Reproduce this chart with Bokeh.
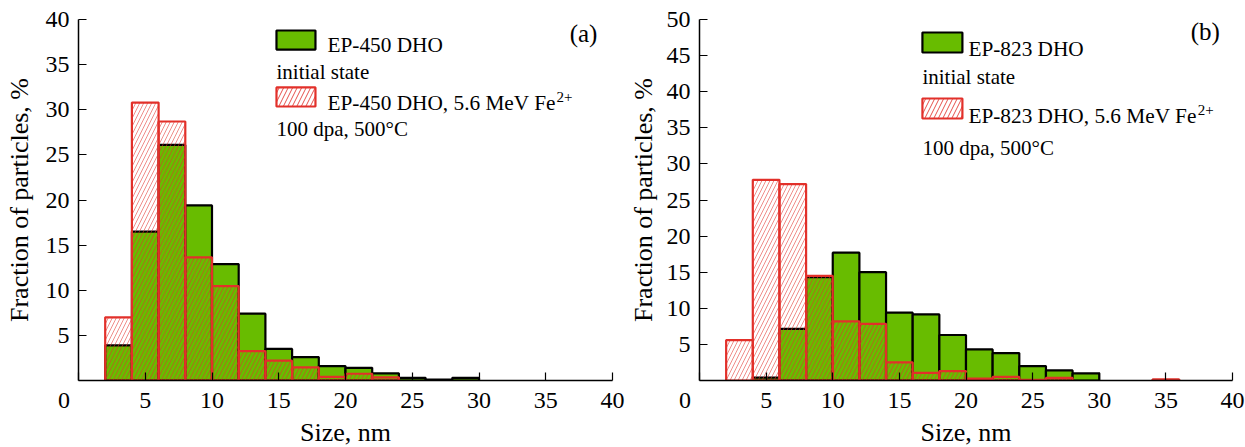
import numpy as np
from bokeh.plotting import figure
from bokeh.models import ColumnDataSource, Range1d, FixedTicker, Label
from bokeh.layouts import row
from bokeh.embed import file_html
from bokeh.resources import INLINE

# ---- data ----
bin_width = 2
a_left = [2, 4, 6, 8, 10, 12, 14, 16, 18, 20, 22, 24, 26, 28]
a_initial = [3.9, 16.5, 26.1, 19.4, 12.9, 7.4, 3.5, 2.6, 1.6, 1.4, 0.8, 0.3, 0.1, 0.3]
a_irradiated = [7.0, 30.8, 28.7, 13.65, 10.45, 3.25, 2.2, 1.45, 0.4, 0.75, 0.35, 0, 0, 0]

b_left = [2, 4, 6, 8, 10, 12, 14, 16, 18, 20, 22, 24, 26, 28, 30, 32, 34]
b_initial = [0, 0.4, 7.15, 14.3, 17.7, 15.0, 9.4, 9.15, 6.3, 4.3, 3.8, 2.0, 1.4, 1.0, 0, 0, 0]
b_irradiated = [5.6, 27.8, 27.2, 14.5, 8.2, 7.85, 2.5, 1.05, 1.3, 0.25, 0.5, 0.1, 0.35, 0, 0, 0, 0.15]

x_ticks = [0, 5, 10, 15, 20, 25, 30, 35, 40]
a_y_ticks = [5, 10, 15, 20, 25, 30, 35, 40]
b_y_ticks = [5, 10, 15, 20, 25, 30, 35, 40, 45, 50]

a_names = ["EP-450 DHO", "EP-450 DHO, 5.6 MeV Fe"]
b_names = ["EP-823 DHO", "EP-823 DHO, 5.6 MeV Fe"]
sub_initial = "initial state"
sub_irr = "100 dpa, 500°C"

GREEN = "#68bc00"
RED = "#e2302a"
FONT = "Liberation Serif"


def src(left, vals):
    left = np.array(left, dtype=float)
    vals = np.array(vals, dtype=float)
    m = vals > 0
    return ColumnDataSource(dict(left=left[m], right=left[m] + bin_width, top=vals[m],
                                 bottom=np.zeros(m.sum())))


def make_panel(left, init, irr, ymax, yticks, names, tag, border_left, frame_w, border_right,
               leg, ylab_standoff):
    p = figure(output_backend="svg", toolbar_location=None,
               x_range=Range1d(0, 40), y_range=Range1d(0, ymax),
               frame_width=frame_w, frame_height=361,
               min_border_left=border_left, min_border_right=border_right,
               min_border_top=19, min_border_bottom=67)
    p.outline_line_color = None
    p.grid.visible = False
    p.background_fill_color = "white"
    p.border_fill_color = "white"

    p.quad(left="left", right="right", top="top", bottom="bottom", source=src(left, init),
           fill_color=GREEN, line_color="black", line_width=2.2)
    p.quad(left="left", right="right", top="top", bottom="bottom", source=src(left, irr),
           fill_color=None, line_color=RED, line_width=2.2,
           hatch_pattern="/", hatch_color=RED, hatch_alpha=0.55, hatch_scale=8, hatch_weight=1)

    for ax in (p.xaxis[0], p.yaxis[0]):
        ax.axis_line_width = 1.5
        ax.axis_line_color = "black"
        ax.major_tick_in = 8
        ax.major_tick_out = 0
        ax.major_tick_line_width = 1.2
        ax.minor_tick_line_color = None
        ax.major_label_text_font = FONT
        ax.major_label_text_font_size = "24px"
        ax.major_label_text_color = "black"
        ax.axis_label_text_font = FONT
        ax.axis_label_text_font_size = "26px"
        ax.axis_label_text_font_style = "normal"
        ax.axis_label_text_color = "black"
    p.xaxis[0].ticker = FixedTicker(ticks=x_ticks)
    # the shared origin "0" sits left of the x-axis origin
    p.xaxis[0].major_label_overrides = {0: "0\u2003\u2009"}
    p.yaxis[0].ticker = FixedTicker(ticks=yticks)
    p.xaxis[0].axis_label = "Size, nm"
    p.yaxis[0].axis_label = "Fraction of particles, %"
    p.xaxis[0].major_label_standoff = 6
    p.xaxis[0].axis_label_standoff = 2
    p.yaxis[0].major_label_standoff = 9
    p.yaxis[0].axis_label_standoff = ylab_standoff

    sx0, sx1, gy0, gy1, ry0, ry1, tx, t1, t2, t3, t4, supx, supy, tagx, tagy = leg
    # legend swatches
    p.quad(left=[sx0], right=[sx1], top=[gy0], bottom=[gy1], fill_color=GREEN,
           line_color="black", line_width=2.2)
    p.quad(left=[sx0], right=[sx1], top=[ry0], bottom=[ry1], fill_color=None,
           line_color=RED, line_width=2.2, hatch_pattern="/", hatch_color=RED,
           hatch_alpha=0.85, hatch_scale=9, hatch_weight=1)

    def lab(x, y, t, size="21.3px", align="left"):
        p.add_layout(Label(x=x, y=y, text=t, text_font=FONT, text_font_size=size,
                           text_align=align, text_baseline="alphabetic", text_color="black"))

    lab(tx, t1, names[0])
    lab(sx0, t2, sub_initial, size="21px")
    lab(tx, t3, names[1])
    lab(supx, supy, "2+", size="15px")
    lab(sx0, t4, sub_irr, size="21px")
    lab(tagx, tagy, tag, size="25px", align="center")
    return p


# legend geometry (data units of each panel)
leg_a = (14.83, 17.75, 38.78, 36.67, 32.47, 30.36, 18.65, 37.12, 34.13, 30.8, 27.92,
         35.8, 31.36, 37.83, 38.45)
leg_b = (16.73, 19.73, 48.2, 45.43, 39.06, 36.29, 20.18, 45.98, 41.97, 36.7, 32.27,
         37.4, 37.4, 37.96, 48.34)

pa = make_panel(a_left, a_initial, a_irradiated, 40, a_y_ticks, a_names, "(a)",
                78, 534, 13, leg_a, 9)
pb = make_panel(b_left, b_initial, b_irradiated, 50, b_y_ticks, b_names, "(b)",
                69, 533, 18, leg_b, 6)

layout = row(pa, pb)
open("out.html", "w").write(file_html(layout, INLINE))
